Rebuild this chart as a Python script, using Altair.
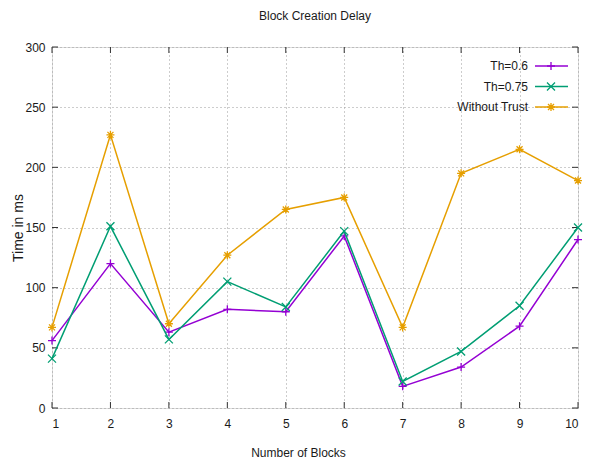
import altair as alt
import pandas as pd

blocks = [1, 2, 3, 4, 5, 6, 7, 8, 9, 10]
th_06 = [56, 120, 63, 82, 80, 143, 18, 34, 68, 140]
th_075 = [41, 151, 57, 105, 84, 147, 22, 47, 85, 150]
without_trust = [67, 227, 70, 127, 165, 175, 67, 195, 215, 189]
series_names = ["Th=0.6", "Th=0.75", "Without Trust"]
series_values = [th_06, th_075, without_trust]
x_ticks = [1, 2, 3, 4, 5, 6, 7, 8, 9, 10]
y_ticks = [0, 50, 100, 150, 200, 250, 300]

colors = ["#9400D3", "#009E73", "#E69F00"]
shapes = [
    "M-1,0L1,0M0,-1L0,1",
    "M-1,-1L1,1M-1,1L1,-1",
    "M-1,0L1,0M0,-1L0,1M-0.75,-0.75L0.75,0.75M-0.75,0.75L0.75,-0.75",
]

FONT = "Liberation Sans"
TXT = "#1a1a1a"
W, H = 526, 361
TL = 6

xs = alt.Scale(domain=[1, 10], nice=False, zero=False)
ys = alt.Scale(domain=[0, 300], nice=False, zero=True)
xaxis = alt.Axis(values=x_ticks, title="Number of Blocks", format="d", ticks=False,
                 domain=False, grid=True, gridDash=[1, 3], gridColor="#9a9a9a",
                 labelPadding=10, labelFontSize=12, labelColor=TXT,
                 titleFontSize=12, titleFontWeight="normal", titleColor=TXT,
                 titleX=246, titleY=44, titleBaseline="middle", labelFont=FONT, titleFont=FONT)
yaxis = alt.Axis(values=y_ticks, title="Time in ms", format="d", ticks=False,
                 domain=False, grid=True, gridDash=[1, 3], gridColor="#9a9a9a",
                 labelPadding=7, labelFontSize=12, labelColor=TXT,
                 titleFontSize=14, titleFontWeight="normal", titleColor=TXT,
                 titleX=-34, titleY=H / 2, titleAngle=-90, titleAlign="center",
                 titleBaseline="middle", labelFont=FONT, titleFont=FONT)

X = alt.X("block:Q", scale=xs, axis=xaxis)
Y = alt.Y("time:Q", scale=ys, axis=yaxis)

layers = []

xt = pd.DataFrame({"block": x_ticks})
yt = pd.DataFrame({"time": y_ticks})
tick_color = "#333333"
layers.append(alt.Chart(xt).mark_rule(color=tick_color).encode(x=X, y=alt.value(H), y2=alt.value(H - TL)))
layers.append(alt.Chart(xt).mark_rule(color=tick_color).encode(x=X, y=alt.value(0), y2=alt.value(TL)))
layers.append(alt.Chart(yt).mark_rule(color=tick_color).encode(y=Y, x=alt.value(0), x2=alt.value(TL)))
layers.append(alt.Chart(yt).mark_rule(color=tick_color).encode(y=Y, x=alt.value(W), x2=alt.value(W - TL)))

for name, vals, col, shp in zip(series_names, series_values, colors, shapes):
    df = pd.DataFrame({"block": blocks, "time": vals, "series": name})
    layers.append(alt.Chart(df).mark_line(color=col, strokeWidth=1.5).encode(x=X, y=Y))
    layers.append(alt.Chart(df).mark_point(shape=shp, color=col, filled=False, size=64,
                                           strokeWidth=1.3, opacity=1).encode(x=X, y=Y))

# legend (inside top right)
for i, (name, col, shp) in enumerate(zip(series_names, colors, shapes)):
    ly = 19 + 20.5 * i
    ldf = pd.DataFrame({"series": [name]})
    layers.append(alt.Chart(ldf).mark_text(align="right", baseline="middle", font=FONT,
                                           fontSize=12, color=TXT).encode(
        x=alt.value(W - 50), y=alt.value(ly), text="series:N"))
    layers.append(alt.Chart(ldf).mark_rule(color=col, strokeWidth=1.5).encode(
        x=alt.value(W - 43), x2=alt.value(W - 10), y=alt.value(ly)))
    layers.append(alt.Chart(ldf).mark_point(shape=shp, color=col, filled=False, size=64,
                                            strokeWidth=1.3, opacity=1).encode(
        x=alt.value(W - 27), y=alt.value(ly)))

chart = alt.layer(*layers).properties(
    width=W, height=H,
    title=alt.TitleParams("Block Creation Delay", font=FONT, fontSize=12, fontWeight="normal",
                          color=TXT, anchor="middle", offset=18),
    autosize=alt.AutoSizeParams(type="none"),
    padding={"left": 44, "top": 39, "right": 7, "bottom": 50},
).configure_view(stroke="#333333", strokeWidth=1.2).configure(background="white")

chart.save("out.html", embed_options={"renderer": "svg", "actions": False})
